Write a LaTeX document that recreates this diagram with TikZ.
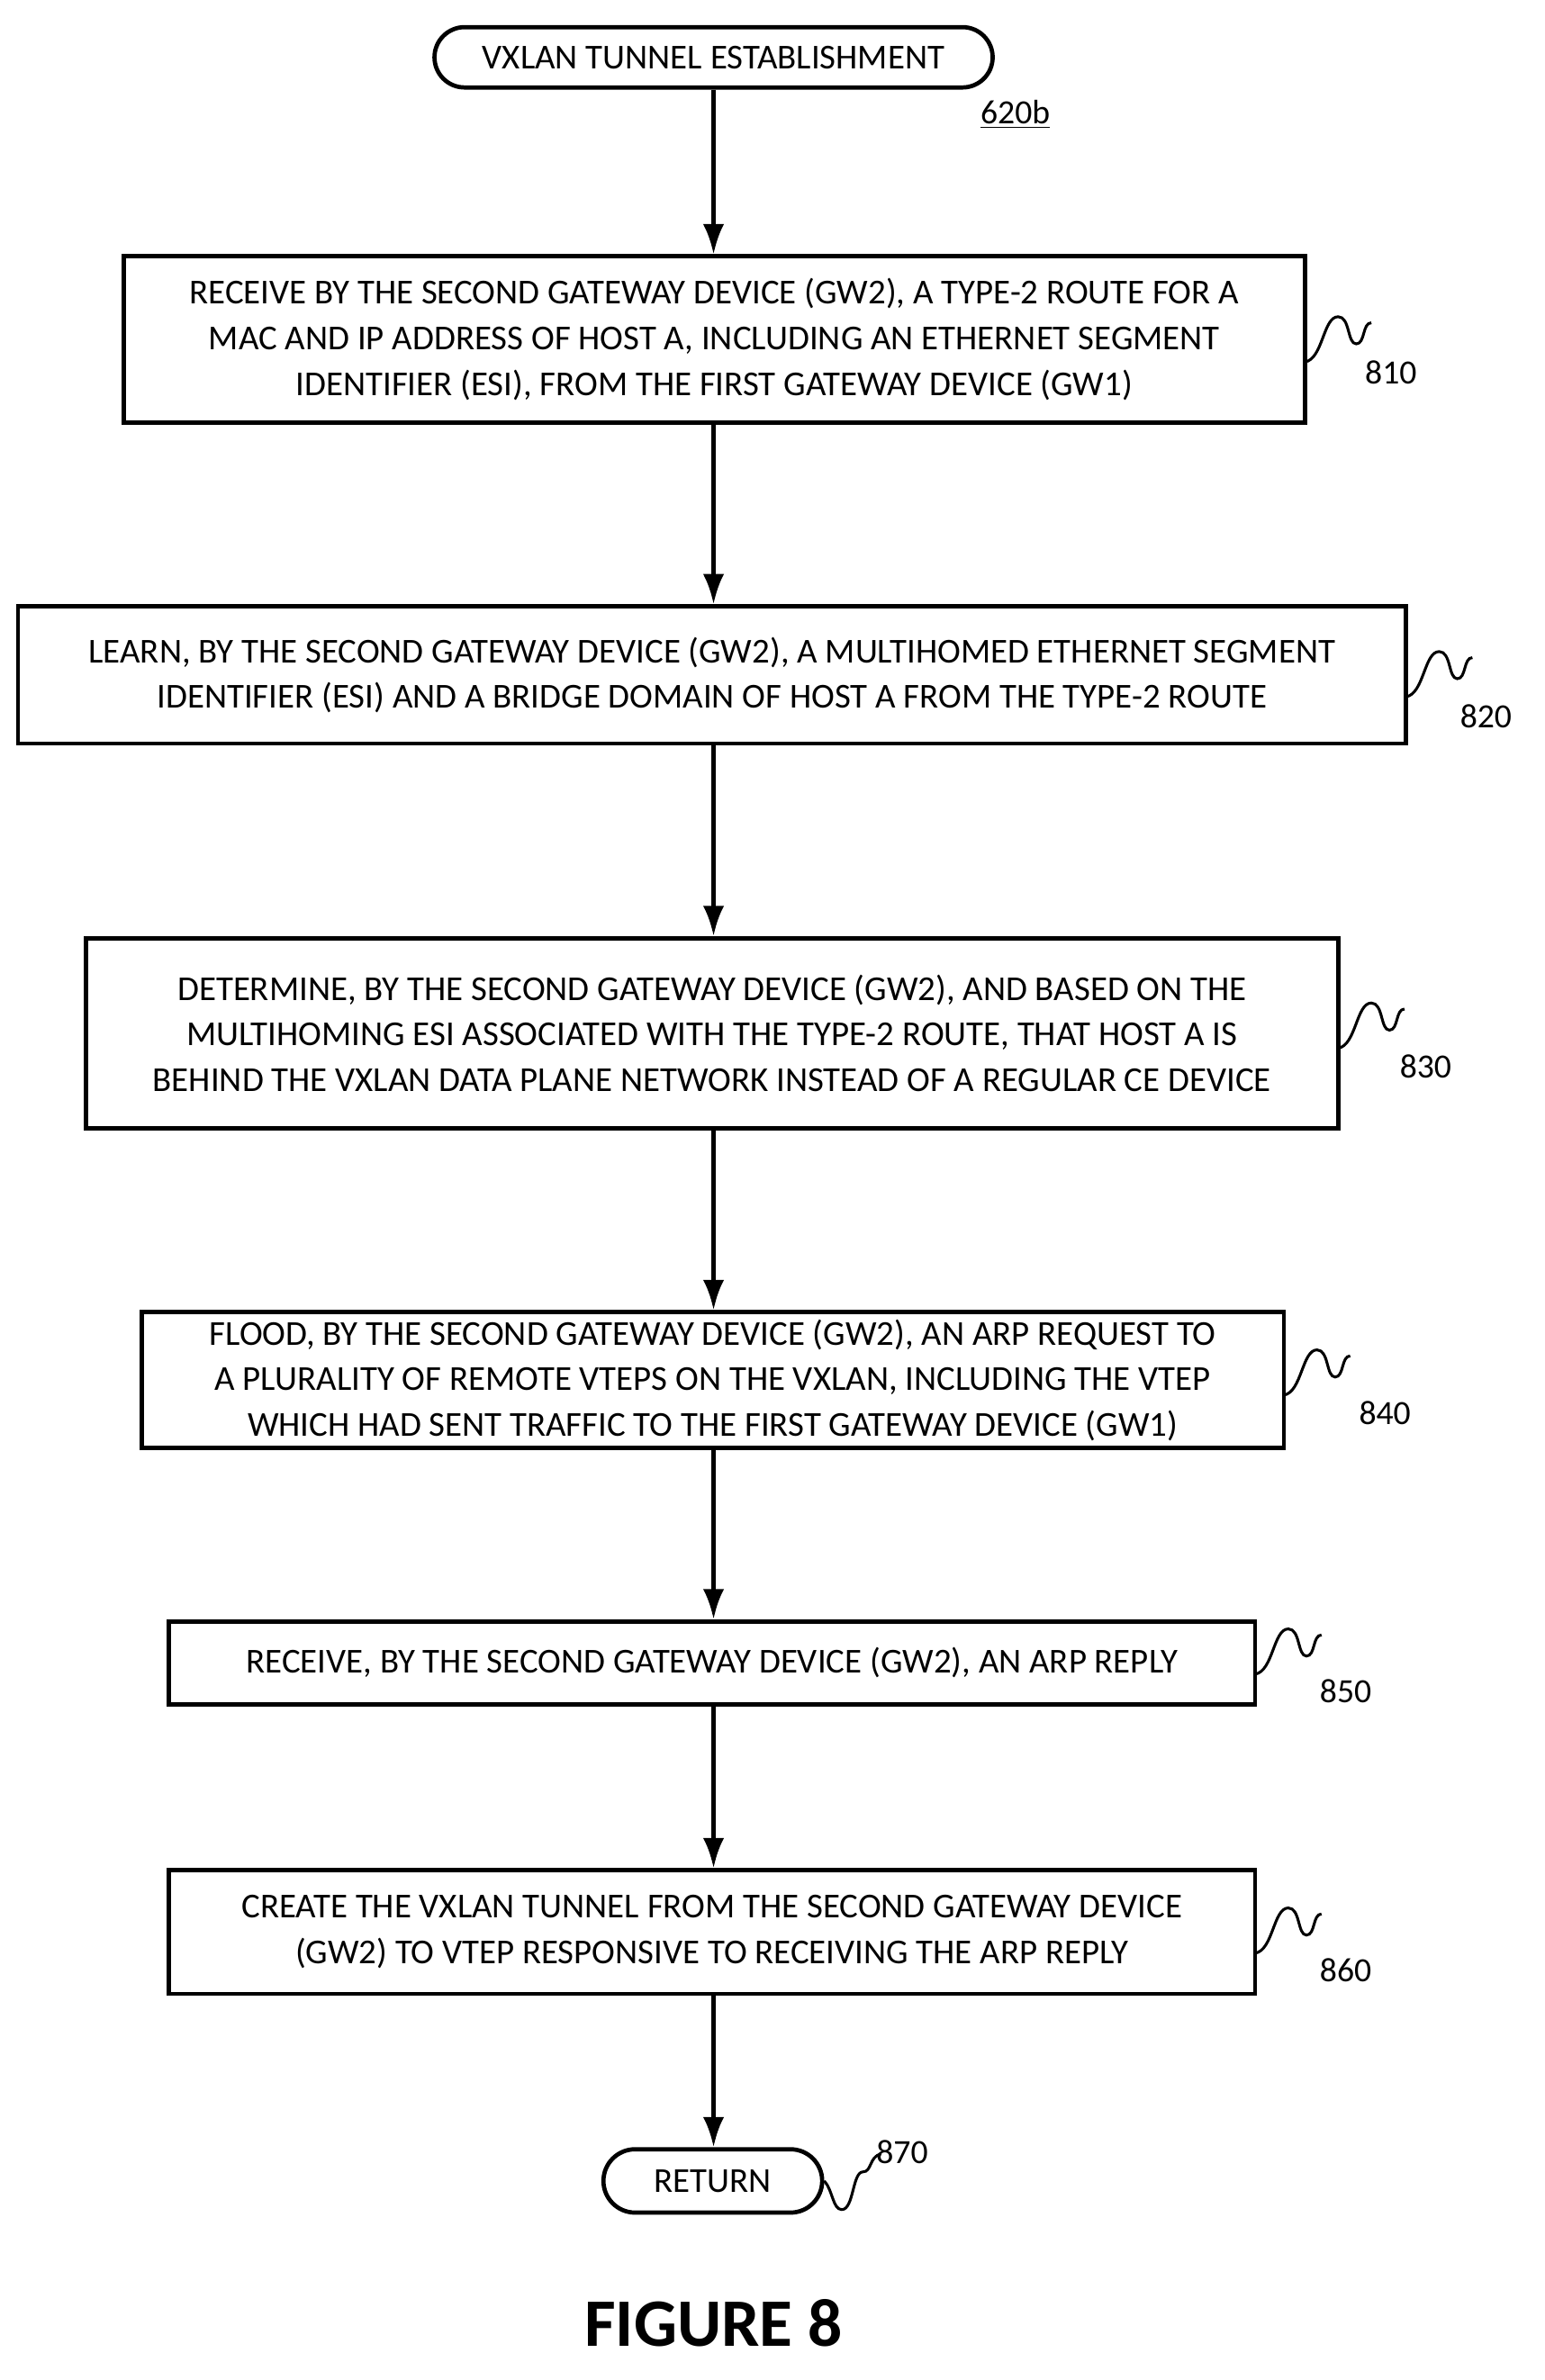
\documentclass[tikz,border=0pt]{standalone}
\usepackage{fontspec}
\usetikzlibrary{arrows.meta,shapes.misc}
\setmainfont{Carlito}
\begin{document}
\begin{tikzpicture}[x=0.25mm,y=-0.25mm,
  box/.style={draw,line width=2pt,align=center,font=\fontsize{16.5}{21.5}\selectfont,inner sep=0pt},
  term/.style={draw,line width=2pt,rounded rectangle,align=center,font=\fontsize{16.5}{21}\selectfont,inner sep=0pt},
  arr/.style={line width=2pt,-{Latex[length=5mm,width=3.5mm]}},
  wav/.style={line width=1.3pt},
  lab/.style={font=\fontsize{16}{18}\selectfont}]
\useasboundingbox (0,0) rectangle (1024,1578);
\node[term,minimum width=370*0.25mm,minimum height=40*0.25mm] (s) at (473,38) {VXLAN TUNNEL ESTABLISHMENT};
\node[lab] (r) at (673,76) {\underline{620b}};
\node[box,minimum width=783*0.25mm,minimum height=110*0.25mm] (b1) at (473.5,225) {RECEIVE BY THE SECOND GATEWAY DEVICE (GW2), A TYPE-2 ROUTE FOR A\\MAC AND IP ADDRESS OF HOST A, INCLUDING AN ETHERNET SEGMENT\\IDENTIFIER (ESI), FROM THE FIRST GATEWAY DEVICE (GW1)};
\node[box,minimum width=920*0.25mm,minimum height=91*0.25mm] (b2) at (472,447.5) {LEARN, BY THE SECOND GATEWAY DEVICE (GW2), A MULTIHOMED ETHERNET SEGMENT\\IDENTIFIER (ESI) AND A BRIDGE DOMAIN OF HOST A FROM THE TYPE-2 ROUTE};
\node[box,minimum width=830*0.25mm,minimum height=126*0.25mm] (b3) at (472,685) {DETERMINE, BY THE SECOND GATEWAY DEVICE (GW2), AND BASED ON THE\\MULTIHOMING ESI ASSOCIATED WITH THE TYPE-2 ROUTE, THAT HOST A IS\\BEHIND THE VXLAN DATA PLANE NETWORK INSTEAD OF A REGULAR CE DEVICE};
\node[box,minimum width=757*0.25mm,minimum height=90*0.25mm] (b4) at (472.5,915) {FLOOD, BY THE SECOND GATEWAY DEVICE (GW2), AN ARP REQUEST TO\\A PLURALITY OF REMOTE VTEPS ON THE VXLAN, INCLUDING THE VTEP\\WHICH HAD SENT TRAFFIC TO THE FIRST GATEWAY DEVICE (GW1)};
\node[box,minimum width=720*0.25mm,minimum height=55*0.25mm] (b5) at (472,1102.5) {RECEIVE, BY THE SECOND GATEWAY DEVICE (GW2), AN ARP REPLY};
\node[box,minimum width=720*0.25mm,minimum height=82*0.25mm] (b6) at (472,1281) {CREATE THE VXLAN TUNNEL FROM THE SECOND GATEWAY DEVICE\\(GW2) TO VTEP RESPONSIVE TO RECEIVING THE ARP REPLY};
\node[term,minimum width=145*0.25mm,minimum height=42*0.25mm] (e) at (472.5,1446) {RETURN};
\node[font=\bfseries\fontsize{32}{36}\selectfont] (f) at (473,1540) {FIGURE 8};
\foreach \a/\b in {s/b1,b1/b2,b2/b3,b3/b4,b4/b5,b5/b6,b6/e}
  \draw[arr] (\a.south -| s) -- (\b.north -| s);
\node[lab] (l1) at (922,247) {810};
\node[lab] (l2) at (985,475) {820};
\node[lab] (l3) at (945,707) {830};
\node[lab] (l4) at (918,937) {840};
\node[lab] (l5) at (892,1121) {850};
\node[lab] (l6) at (892,1306) {860};
\node[lab] (l7) at (598,1427) {870};
\foreach \n/\x/\y in {1/865/240, 2/932/462, 3/887/695, 4/851/925, 5/832/1110, 6/832/1295}
  \draw[wav] (\x,\y) .. controls (\x+12,\y-2) and (\x+12,\y-30) .. (\x+22,\y-30)
     .. controls (\x+30,\y-30) and (\x+28,\y-12) .. (\x+34,\y-12)
     .. controls (\x+40,\y-12) and (\x+38,\y-26) .. (\x+44,\y-26);
\coordinate (w7) at (e.east);
\draw[wav] (w7) .. controls (552,1452) and (552,1465) .. (558,1465)
  .. controls (566,1465) and (565,1440) .. (572,1440)
  .. controls (578,1440) and (576,1430) .. (584,1428);
\end{tikzpicture}
\end{document}
